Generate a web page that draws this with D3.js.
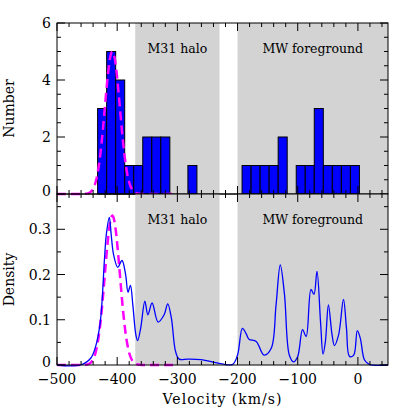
<!DOCTYPE html>
<html><head><meta charset="utf-8">
<script src="https://cdn.jsdelivr.net/npm/d3@7"></script>
<style>body{margin:0;background:#fff}text{font-family:"DejaVu Serif",serif}</style>
</head><body><svg id="c" width="409" height="409"></svg>
<script>
// histogram: bins of 15 km/s starting at -432.5
const binStart = -432.5, binWidth = 15;
const counts = [3,5,4,1,1,2,2,2,0,0,1,0,0,0,0,0,1,1,1,1,2,0,1,1,3,1,1,1,1];
// gaussian fit to M31 component
const gaussMu = -408, gaussSigma = 12.5, gaussPeakTop = 5, gaussPeakBottom = 0.33;
// regions
const regions = [{name:"M31 halo", x0:-370, x1:-230}, {name:"MW foreground", x0:-200, x1:50}];
// density curve
const densV = [-500,-461,-444,-436,-428,-421,-418,-413,-410,-406,-399,-392,-386,-382,-378,-374,-369,-366,-361,-354,-349,-342,-332,-322,-316,-310,-303,-297,-283,-261,-228,-208,-200,-192,-186,-181,-169,-156,-144,-136,-129,-122,-114,-107,-100,-92,-86,-78,-73,-68,-62,-58,-54,-49,-43,-39,-32,-24,-19,-14,-7,-1,4,11,19,50];
const densD = [0,0,0.015,0.04,0.096,0.237,0.289,0.326,0.289,0.244,0.216,0.231,0.2,0.161,0.176,0.133,0.067,0.054,0.081,0.141,0.111,0.137,0.095,0.111,0.135,0.104,0.03,0.013,0.013,0.012,0.003,0.0015,0.022,0.081,0.07,0.057,0.052,0.022,0.037,0.133,0.221,0.156,0.022,0.007,0.019,0.078,0.063,0.167,0.156,0.207,0.093,0.024,0.052,0.133,0.067,0.043,0.067,0.145,0.081,0.019,0.022,0.076,0.059,0.011,0.0015,0];
const xTicks = [-500,-400,-300,-200,-100,0];

const svg = d3.select("#c");
const L = 57, R = 388, T = 23, M = 194, B = 365;
const FS = 14;
const x = d3.scaleLinear().domain([-500,50]).range([L,R]);
const yTop = d3.scaleLinear().domain([0,6]).range([M,T]);
const yBot = d3.scaleLinear().domain([0,0.378]).range([B,M]);

function panel(y0, y1) {
  const g = svg.append("g");
  regions.forEach(r => {
    g.append("rect").attr("x", x(r.x0)).attr("width", x(r.x1)-x(r.x0))
      .attr("y", y1).attr("height", y0-y1).attr("fill", "#d3d3d3");
    g.append("text").attr("x", (x(r.x0)+x(r.x1))/2).attr("y", y1+30)
      .attr("text-anchor","middle").attr("font-size",12.5).text(r.name);
  });
}
function frame(y, y0, y1, majors, minorStep, fmt, label) {
  const g = svg.append("g").attr("stroke","#000").attr("fill","none");
  g.append("rect").attr("x",L).attr("y",y1).attr("width",R-L).attr("height",y0-y1).attr("stroke-width",1);
  d3.range(-500,51,20).forEach(v => {
    const len = v % 100 === 0 ? 8 : 4;
    g.append("line").attr("x1",x(v)).attr("x2",x(v)).attr("y1",y0).attr("y2",y0-len);
    g.append("line").attr("x1",x(v)).attr("x2",x(v)).attr("y1",y1).attr("y2",y1+len);
  });
  const d1 = y.domain()[1];
  d3.range(0, d1+1e-9, minorStep).forEach(v => {
    const major = majors.some(m => Math.abs(m-v) < 1e-9);
    const len = major ? 8 : 4;
    g.append("line").attr("x1",L).attr("x2",L+len).attr("y1",y(v)).attr("y2",y(v));
    g.append("line").attr("x1",R).attr("x2",R-len).attr("y1",y(v)).attr("y2",y(v));
  });
  majors.forEach(m => svg.append("text").attr("x",L-6).attr("y",y(m)+(m===0?2:5))
    .attr("text-anchor","end").attr("font-size",FS).text(fmt(m)));
  svg.append("text").attr("transform",`translate(14,${(y0+y1)/2}) rotate(-90)`)
    .attr("text-anchor","middle").attr("font-size",FS).text(label);
}

// top
panel(M, T);
svg.append("g").selectAll("rect").data(counts.map((c,i)=>({c,i})).filter(d=>d.c>0)).join("rect")
  .attr("x", d => x(binStart+d.i*binWidth)).attr("width", d => x(binStart+(d.i+1)*binWidth)-x(binStart+d.i*binWidth))
  .attr("y", d => yTop(d.c)).attr("height", d => yTop(0)-yTop(d.c))
  .attr("fill","#0000ff").attr("stroke","#000").attr("stroke-width",1);
const gv = d3.range(-500,-299,1);
const gauss = v => Math.exp(-0.5*((v-gaussMu)/gaussSigma)**2);
svg.append("path").datum(gv).attr("fill","none").attr("stroke","#ff00ff").attr("stroke-width",2.5)
  .attr("stroke-dasharray","9,5")
  .attr("d", d3.line().x(v=>x(v)).y(v=>yTop(gaussPeakTop*gauss(v))));
frame(yTop, M, T, [0,2,4,6], 0.5, d3.format("d"), "Number");

// bottom
panel(B, M);
svg.append("path").datum(gv).attr("fill","none").attr("stroke","#ff00ff").attr("stroke-width",2.5)
  .attr("stroke-dasharray","9,5")
  .attr("d", d3.line().x(v=>x(v)).y(v=>yBot(gaussPeakBottom*gauss(v))));
svg.append("path").datum(densV.map((v,i)=>[v,densD[i]])).attr("fill","none").attr("stroke","#0000ff").attr("stroke-width",1.3)
  .attr("d", d3.line().curve(d3.curveCatmullRom).x(d=>x(d[0])).y(d=>yBot(d[1])));
frame(yBot, B, M, [0,0.1,0.2,0.3], 0.05, v => v===0?"0":d3.format(".1f")(v), "Density");

xTicks.forEach(v => svg.append("text").attr("x",x(v)).attr("y",B+19).attr("text-anchor","middle")
  .attr("font-size",FS).text(v<0 ? "\u2212"+(-v) : v));
svg.append("text").attr("x",(L+R)/2).attr("y",B+39).attr("text-anchor","middle").attr("font-size",FS).attr("letter-spacing",1).text("Velocity (km/s)");
</script></body></html>
